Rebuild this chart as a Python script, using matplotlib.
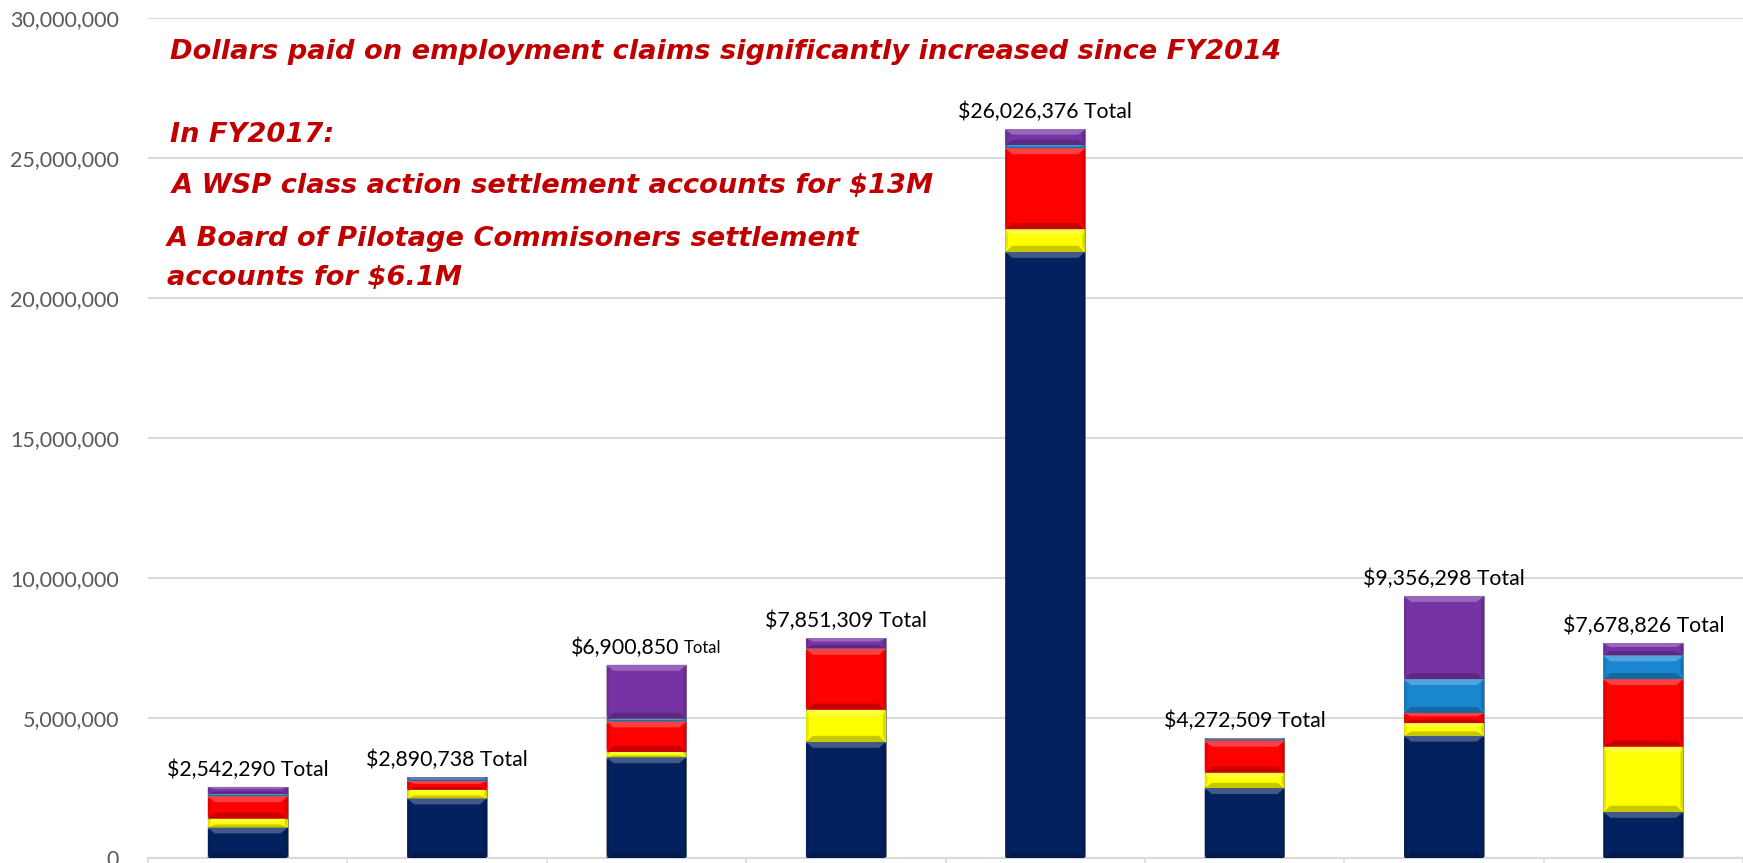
import numpy as np
import matplotlib.pyplot as plt
from matplotlib.patches import Polygon
import matplotlib.colors as mcolors

# values in dollars (bottom to top of each stack)
years = ['FY2011', 'FY2012', 'FY2013', 'FY2014', 'FY2017', 'FY2015', 'FY2016', 'FY2018']
navy_vals = [1090000, 2130000, 3600000, 4150000, 21650000, 2500000, 4370000, 1650000]
yellow_vals = [320000, 310000, 190000, 1150000, 810000, 550000, 450000, 2330000]
red_vals = [800000, 310000, 1090000, 2170000, 2890000, 1140000, 360000, 2410000]
blue_vals = [80000, 100000, 100000, 20000, 110000, 50000, 1210000, 850000]
purple_vals = [250000, 40000, 1920000, 360000, 560000, 30000, 2970000, 440000]
totals = [2542290, 2890738, 6900850, 7851309, 26026376, 4272509, 9356298, 7678826]

notes = ['Dollars paid on employment claims significantly increased since FY2014',
         'In FY2017:',
         'A WSP class action settlement accounts for $13M',
         'A Board of Pilotage Commisoners settlement',
         'accounts for $6.1M']

series = [navy_vals, yellow_vals, red_vals, blue_vals, purple_vals]
colors = ['#03215F', '#FFFF00', '#FF0000', '#1A86D0', '#7633A4']

W, H = 1743, 863
fig = plt.figure(figsize=(W / 100, H / 100), dpi=100)
ax = fig.add_axes([148 / W, 5 / H, 1 - 148 / W, 840 / H])

x = np.arange(len(totals))
bw = 0.4
ymax = 30e6
px_x = 1 / 200.0          # data units per pixel
px_y = ymax / 840.0


def shade(c, f):
    r = np.array(mcolors.to_rgb(c))
    if f > 0:
        r = r + (1 - r) * f
    else:
        r = r * (1 + f)
    return np.clip(r, 0, 1)


def bevel(xc, y0, h, col):
    # fake the office "bevel" look with light top, dark bottom and sides
    l, r = xc - bw / 2, xc + bw / 2
    t = y0 + h
    bh = min(6 * px_y, h / 3)
    bx = min(7 * px_x, bw / 4)
    ax.add_patch(Polygon([[l, t], [r, t], [r - bx, t - bh], [l + bx, t - bh]],
                         closed=True, fc=shade(col, 0.25), ec='none', zorder=3))
    ax.add_patch(Polygon([[l, y0], [r, y0], [r - bx, y0 + bh], [l + bx, y0 + bh]],
                         closed=True, fc=shade(col, -0.22), ec='none', zorder=3))
    ax.add_patch(Polygon([[l, y0], [l + bx * 0.4, y0 + bh], [l + bx * 0.4, t - bh], [l, t]],
                         closed=True, fc=shade(col, -0.1), ec='none', zorder=3))
    ax.add_patch(Polygon([[r, y0], [r - bx * 0.4, y0 + bh], [r - bx * 0.4, t - bh], [r, t]],
                         closed=True, fc=shade(col, -0.16), ec='none', zorder=3))


bottom = np.zeros(len(totals))
for vals, col in zip(series, colors):
    vals = np.array(vals, dtype=float)
    ax.bar(x, vals, bw, bottom=bottom, color=col, edgecolor='#7f7f7f',
           linewidth=0.6, zorder=2)
    for xi, b, v in zip(x, bottom, vals):
        bevel(xi, b, v, col)
    bottom += vals

# total labels
lab_font = 'Lato'
for i, tot in enumerate(totals):
    if i == 2:
        ax.annotate(f'${tot:,}', (x[i], tot), xytext=(24, 12.5), textcoords='offset points',
                    ha='right', va='center', fontsize=15.3, family=lab_font, zorder=5)
        ax.annotate('Total', (x[i], tot), xytext=(27, 12), textcoords='offset points',
                    ha='left', va='center', fontsize=12, family=lab_font, zorder=5)
    else:
        ax.annotate(f'${tot:,} Total', (x[i], tot), xytext=(0, 12.5), textcoords='offset points',
                    ha='center', va='center', fontsize=15.3, family=lab_font, zorder=5)

ax.set_xlim(-0.5, -0.5 + (W - 148) / 200.0)
ax.set_ylim(0, ymax)
ax.set_yticks(np.arange(0, ymax + 1, 5e6))
ax.set_yticklabels([f'{int(v):,}' for v in np.arange(0, ymax + 1, 5e6)],
                   fontsize=15.5, family=lab_font, color='#595959')
ax.tick_params(axis='y', length=0, pad=21)
ax.set_xticks([])
ax.set_xticks(np.arange(-0.5, 8, 1), minor=True)
ax.tick_params(axis='x', which='minor', length=6, color='#d9d9d9', width=1.2)
ax.grid(axis='y', color='#d9d9d9', linewidth=1.5, zorder=0)
ax.set_axisbelow(True)
for s in ['top', 'right', 'left']:
    ax.spines[s].set_visible(False)
ax.spines['bottom'].set_color('#d9d9d9')
ax.spines['bottom'].set_linewidth(1.5)

# red notes (figure pixel positions from the top-left)
note_pos = [(170, 52), (170, 135), (172, 186), (167, 239), (167, 278)]
for txt, (px, py) in zip(notes, note_pos):
    fig.text(px / W, 1 - py / H, txt, ha='left', va='center', fontsize=19.6,
             color='#C00000', fontweight='bold', fontstyle='italic', family='DejaVu Sans')

fig.savefig('out.png', dpi=100)
